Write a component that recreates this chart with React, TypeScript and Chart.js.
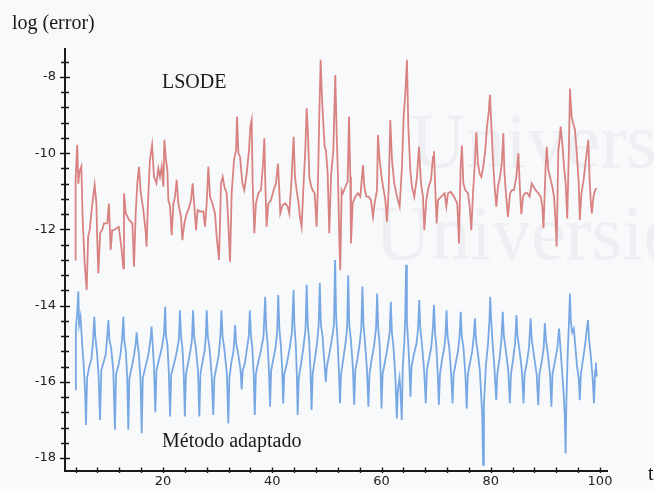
import React, { useEffect, useRef } from "react";
import { Chart, registerables } from "chart.js";

Chart.register(...registerables);

// ---- axis ranges and tick labels ----
const xMin = 2.06;
const xMax = 101.28;
const yMin = -18.34;
const yMax = -7.265;
const xTickStep = 4;
const yTickStep = 0.4;
const xLabelValues = [20, 40, 60, 80, 100];
const yLabelValues = [-8, -10, -12, -14, -16, -18];

const titleY = "log (error)";
const titleX = "t";
const nameLsode = "LSODE";
const nameAdapt = "Método adaptado";

// ---- series: [t, log(error)] ----
const lsodeSeries: [number, number][] = [
  [3.9, -12.8], [4.0, -10.7], [4.3, -9.78], [4.5, -10.8], [4.7, -10.5], [5.05, -10.35], [5.3, -11.75], [5.66, -12.89], [6.03, -13.59], [6.3, -12.19],
  [6.6, -12.0], [7.0, -11.4], [7.49, -10.83], [7.8, -11.3], [7.95, -12.2], [8.16, -13.15], [8.5, -12.1], [8.9, -12.0], [9.2, -11.84], [9.8, -11.84],
  [10.1, -11.32], [10.42, -12.54], [10.7, -12.02], [11.0, -12.02], [11.9, -11.93], [12.4, -12.5], [12.74, -13.02], [12.86, -11.05], [13.2, -11.58], [13.8, -11.75],
  [14.4, -11.84], [14.69, -12.98], [15.0, -11.58], [15.3, -10.79], [15.6, -10.36], [15.9, -11.0], [16.4, -11.49], [16.8, -12.02], [17.0, -12.45], [17.25, -11.3],
  [17.6, -10.18], [18.0, -9.78], [18.35, -10.62], [18.8, -10.79], [19.15, -10.4], [19.45, -10.62], [19.76, -10.35], [20.07, -10.88], [20.25, -9.65], [20.55, -10.18],
  [20.8, -10.44], [20.98, -11.23], [21.29, -11.4], [21.59, -12.15], [21.9, -11.32], [22.2, -11.14], [22.5, -10.7], [22.81, -11.32], [23.3, -11.67], [23.54, -12.28],
  [23.91, -11.84], [24.34, -11.58], [24.64, -11.49], [25.13, -11.23], [25.43, -10.79], [25.74, -11.4], [26.05, -12.02], [26.35, -11.49], [26.78, -11.53], [27.39, -11.53],
  [27.69, -11.93], [28.0, -11.32], [28.3, -10.35], [28.61, -11.14], [29.03, -11.32], [29.52, -11.58], [29.83, -12.19], [30.25, -12.8], [30.62, -10.79], [30.93, -10.62],
  [31.23, -10.88], [31.66, -11.05], [31.96, -11.84], [32.27, -12.85], [32.57, -11.05], [33.0, -10.18], [33.37, -9.92], [33.55, -9.04], [33.8, -10.0], [34.1, -10.09],
  [34.53, -10.79], [34.89, -10.97], [35.32, -10.53], [35.75, -9.92], [35.98, -9.3], [36.23, -9.13], [36.41, -10.79], [36.72, -12.1], [37.02, -11.32], [37.45, -11.05],
  [37.94, -10.97], [38.36, -10.18], [38.55, -9.61], [38.73, -10.79], [38.97, -11.93], [39.28, -11.32], [39.77, -11.23], [40.25, -10.97], [40.68, -10.79], [41.05, -10.27],
  [41.29, -10.97], [41.47, -11.58], [41.9, -11.36], [42.39, -11.32], [42.82, -11.4], [43.12, -11.58], [43.49, -10.79], [43.73, -10.09], [43.91, -9.57], [44.16, -10.62],
  [44.46, -10.97], [44.83, -11.32], [45.07, -11.67], [45.38, -11.93], [45.68, -10.97], [46.05, -9.92], [46.3, -8.82], [46.54, -9.48], [46.78, -10.62], [47.15, -10.88],
  [47.39, -10.97], [47.76, -11.05], [48.12, -11.93], [48.37, -10.79], [48.61, -9.04], [48.86, -7.55], [49.1, -8.52], [49.35, -9.22], [49.59, -9.83], [49.83, -9.92],
  [50.14, -10.53], [50.44, -12.1], [50.75, -10.62], [51.18, -9.92], [51.54, -7.95], [51.79, -9.48], [52.03, -10.62], [52.27, -12.19], [52.45, -13.07], [52.7, -10.97],
  [52.95, -11.05], [53.38, -10.88], [53.8, -10.75], [54.05, -9.04], [54.29, -10.62], [54.41, -12.37], [54.72, -11.32], [55.2, -11.14], [55.69, -11.05], [56.12, -11.14],
  [56.61, -10.31], [56.85, -10.88], [57.22, -11.14], [57.65, -11.14], [58.07, -11.23], [58.44, -11.67], [58.74, -11.32], [59.17, -10.97], [59.35, -9.52], [59.66, -10.18],
  [60.09, -10.7], [60.7, -11.23], [61.0, -11.8], [61.31, -10.97], [61.61, -9.13], [61.92, -10.18], [62.34, -10.79], [62.83, -11.14], [63.32, -11.4], [63.75, -10.35],
  [64.05, -9.04], [64.36, -8.43], [64.66, -7.55], [64.91, -9.3], [65.27, -10.44], [65.58, -10.88], [66.0, -11.14], [66.49, -10.62], [66.86, -9.83], [67.23, -10.79],
  [67.59, -11.14], [67.84, -12.02], [68.2, -11.23], [68.63, -10.88], [69.06, -10.7], [69.43, -10.09], [69.61, -9.95], [69.85, -10.97], [70.1, -11.84], [70.34, -11.23],
  [70.95, -11.14], [71.56, -11.05], [71.87, -11.4], [72.17, -11.05], [72.66, -11.01], [73.27, -11.14], [73.88, -11.32], [74.18, -12.37], [74.49, -10.35], [74.73, -9.8],
  [74.98, -10.79], [75.34, -10.97], [75.83, -11.05], [76.14, -11.4], [76.44, -12.02], [76.75, -11.05], [77.05, -10.35], [77.36, -9.45], [77.66, -10.27], [77.97, -10.53],
  [78.27, -10.62], [78.64, -10.35], [79.0, -9.92], [79.31, -9.3], [79.61, -8.95], [79.86, -8.47], [80.1, -9.22], [80.41, -10.18], [80.71, -10.88], [81.02, -11.4],
  [81.32, -10.88], [81.69, -10.62], [82.0, -10.3], [82.3, -9.48], [82.5, -10.5], [82.73, -10.97], [83.15, -11.67], [83.52, -11.05], [83.88, -10.97], [84.25, -10.97],
  [84.68, -10.62], [85.05, -10.0], [85.35, -10.97], [85.6, -11.6], [85.9, -11.14], [86.27, -11.05], [86.7, -11.05], [87.12, -11.14], [87.49, -10.79], [87.85, -10.88],
  [88.22, -10.97], [88.71, -11.05], [89.14, -11.14], [89.44, -11.4], [89.65, -11.97], [90.05, -10.35], [90.25, -9.83], [90.54, -10.44], [90.97, -10.7], [91.27, -10.88],
  [91.58, -11.14], [91.88, -11.84], [92.06, -12.45], [92.37, -9.92], [92.61, -9.65], [92.8, -9.3], [93.1, -9.74], [93.41, -10.35], [93.71, -10.79], [94.0, -11.71],
  [94.3, -9.92], [94.5, -8.3], [94.8, -9.04], [95.1, -9.22], [95.42, -9.39], [95.66, -9.83], [95.91, -10.35], [96.1, -10.79], [96.3, -11.75], [96.6, -11.05],
  [97.0, -10.7], [97.4, -10.18], [97.86, -9.65], [98.1, -10.7], [98.3, -11.23], [98.5, -11.58], [98.8, -11.14], [99.1, -10.97], [99.4, -10.92],
];

const adaptadoSeries: [number, number][] = [
  [3.9, -16.2], [4.05, -14.6], [4.3, -14.2], [4.5, -13.63], [4.65, -14.5], [4.9, -14.3], [5.2, -15.0], [5.5, -15.6], [5.75, -16.3], [5.9, -17.13],
  [6.1, -15.9], [6.5, -15.6], [6.9, -15.4], [7.2, -14.9], [7.43, -14.29], [7.6, -14.8], [7.9, -15.2], [8.2, -15.8], [8.47, -17.0], [8.7, -15.7],
  [9.1, -15.5], [9.5, -15.3], [9.8, -14.8], [10.0, -14.38], [10.2, -14.9], [10.5, -15.1], [10.9, -15.7], [11.2, -17.26], [11.4, -15.8], [11.8, -15.6],
  [12.2, -15.3], [12.5, -14.9], [12.74, -14.29], [12.9, -14.9], [13.2, -15.2], [13.45, -15.9], [13.65, -17.26], [13.85, -15.9], [14.3, -15.6], [14.7, -15.3],
  [15.0, -15.0], [15.18, -14.7], [15.35, -15.0], [15.6, -15.3], [15.9, -16.0], [16.1, -17.35], [16.3, -15.9], [16.8, -15.6], [17.3, -15.3], [17.7, -14.9],
  [17.9, -14.55], [18.1, -15.0], [18.35, -15.6], [18.6, -16.8], [18.8, -15.7], [19.3, -15.4], [19.8, -15.1], [20.2, -14.7], [20.4, -14.03], [20.55, -14.8],
  [20.8, -15.0], [21.05, -15.7], [21.3, -16.91], [21.5, -15.8], [21.9, -15.6], [22.4, -15.3], [22.9, -14.9], [23.1, -14.12], [23.3, -14.8], [23.55, -15.1],
  [23.8, -15.8], [24.0, -16.91], [24.2, -15.8], [24.6, -15.5], [25.0, -15.2], [25.3, -14.9], [25.5, -14.12], [25.7, -14.8], [26.0, -15.1], [26.4, -15.7],
  [26.65, -16.91], [26.85, -15.8], [27.2, -15.5], [27.6, -15.2], [27.85, -14.8], [28.0, -14.12], [28.2, -14.8], [28.5, -15.1], [28.9, -15.8], [29.2, -16.87],
  [29.4, -15.9], [29.8, -15.6], [30.2, -15.3], [30.5, -14.8], [30.7, -14.12], [30.9, -14.8], [31.2, -15.1], [31.7, -15.8], [31.96, -17.09], [32.15, -15.9],
  [32.5, -15.5], [32.9, -15.2], [33.05, -14.9], [33.2, -14.51], [33.4, -15.0], [33.8, -15.3], [34.2, -15.7], [34.4, -16.2], [34.6, -15.7], [35.0, -15.5],
  [35.4, -15.1], [35.7, -14.8], [35.9, -14.12], [36.1, -14.8], [36.35, -15.1], [36.6, -15.8], [36.8, -16.87], [37.0, -15.8], [37.4, -15.5], [37.9, -15.2],
  [38.4, -14.8], [38.7, -13.77], [38.9, -14.6], [39.15, -15.0], [39.4, -15.7], [39.6, -16.65], [39.8, -15.7], [40.2, -15.4], [40.6, -15.1], [40.9, -14.7],
  [41.1, -13.72], [41.3, -14.6], [41.55, -15.0], [41.8, -15.6], [42.0, -16.57], [42.2, -15.8], [42.7, -15.5], [43.2, -15.1], [43.6, -14.7], [43.9, -13.59],
  [44.05, -14.5], [44.3, -15.0], [44.5, -15.8], [44.65, -16.87], [44.85, -15.9], [45.3, -15.5], [45.7, -15.1], [46.1, -14.6], [46.3, -13.45], [46.5, -14.5],
  [46.75, -14.9], [47.0, -15.7], [47.2, -16.74], [47.4, -15.8], [47.8, -15.4], [48.2, -15.0], [48.5, -14.5], [48.7, -13.41], [48.9, -14.5], [49.2, -14.8],
  [49.5, -15.4], [49.8, -16.0], [50.0, -15.6], [50.4, -15.3], [50.9, -14.9], [51.3, -14.5], [51.5, -12.8], [51.7, -14.3], [51.95, -14.9], [52.2, -15.7],
  [52.4, -16.56], [52.6, -15.8], [53.0, -15.4], [53.4, -15.0], [53.7, -14.6], [53.9, -13.2], [54.1, -14.5], [54.4, -14.9], [54.75, -15.6], [55.0, -16.6],
  [55.2, -15.7], [55.6, -15.4], [56.0, -15.0], [56.3, -14.6], [56.5, -13.5], [56.7, -14.5], [57.0, -15.0], [57.35, -15.7], [57.6, -16.65], [57.8, -15.8],
  [58.2, -15.4], [58.6, -15.1], [59.0, -14.6], [59.2, -13.68], [59.4, -14.6], [59.65, -15.0], [59.85, -15.8], [60.0, -16.7], [60.2, -15.8], [60.6, -15.5],
  [61.1, -15.1], [61.5, -14.7], [61.7, -13.9], [61.9, -14.7], [62.2, -15.1], [62.55, -15.9], [62.8, -16.96], [63.0, -16.2], [63.3, -15.9], [63.5, -16.3],
  [63.7, -17.0], [63.9, -15.6], [64.2, -14.9], [64.35, -14.3], [64.5, -12.93], [64.65, -14.4], [64.9, -15.0], [65.1, -15.6], [65.3, -16.39], [65.5, -15.6],
  [65.9, -15.3], [66.4, -15.0], [66.7, -14.6], [66.9, -13.85], [67.1, -14.6], [67.4, -15.0], [67.8, -15.7], [68.1, -16.56], [68.3, -15.7], [68.7, -15.4],
  [69.1, -15.1], [69.4, -14.6], [69.6, -13.98], [69.8, -14.7], [70.05, -15.1], [70.3, -15.8], [70.5, -16.61], [70.7, -15.8], [71.1, -15.4], [71.5, -15.1],
  [71.75, -14.7], [71.9, -14.12], [72.1, -14.8], [72.4, -15.1], [72.75, -15.8], [73.0, -16.56], [73.2, -15.8], [73.6, -15.5], [74.0, -15.2], [74.3, -14.8],
  [74.5, -14.16], [74.7, -14.8], [75.0, -15.1], [75.35, -15.8], [75.6, -16.7], [75.8, -15.8], [76.2, -15.5], [76.6, -15.2], [76.9, -14.8], [77.1, -14.33],
  [77.3, -14.9], [77.6, -15.2], [78.0, -15.7], [78.3, -16.5], [78.45, -16.9], [78.6, -18.18], [78.75, -16.6], [79.1, -15.6], [79.5, -15.0], [79.75, -14.4],
  [79.9, -13.77], [80.05, -14.3], [80.3, -14.9], [80.7, -15.7], [81.0, -16.48], [81.2, -15.8], [81.6, -15.4], [81.95, -14.9], [82.2, -14.16], [82.4, -14.8],
  [82.7, -15.1], [83.2, -15.7], [83.5, -16.56], [83.7, -15.8], [84.1, -15.4], [84.45, -15.0], [84.7, -14.25], [84.9, -14.8], [85.2, -15.1], [85.7, -15.7],
  [86.0, -16.56], [86.2, -15.8], [86.6, -15.5], [87.0, -15.1], [87.3, -14.33], [87.5, -14.9], [87.8, -15.2], [88.4, -15.8], [88.7, -16.61], [88.9, -15.8],
  [89.3, -15.5], [89.7, -15.1], [89.9, -14.46], [90.1, -14.9], [90.4, -15.2], [90.85, -15.8], [91.1, -16.65], [91.3, -15.8], [91.7, -15.5], [92.2, -15.1],
  [92.5, -14.6], [92.7, -15.0], [93.0, -15.6], [93.3, -16.2], [93.55, -16.9], [93.7, -17.88], [93.85, -16.5], [94.1, -15.2], [94.3, -14.5], [94.5, -13.68],
  [94.65, -14.4], [94.9, -14.7], [95.2, -14.6], [95.5, -15.1], [95.8, -15.6], [96.1, -15.9], [96.3, -16.48], [96.5, -15.8], [96.9, -15.4], [97.3, -15.0],
  [97.6, -14.6], [97.8, -14.38], [98.0, -14.9], [98.3, -15.3], [98.65, -15.9], [98.9, -16.56], [99.1, -15.7], [99.25, -15.5], [99.4, -15.86],
];

const isLabel = (list: number[], v: number) => list.some((l) => Math.abs(l - v) < 1e-6);

const crossTicks = {
  id: "crossTicks",
  afterDraw(chart: any) {
    const { ctx, chartArea, scales } = chart;
    ctx.save();
    ctx.strokeStyle = "#1a1a1a";
    ctx.lineWidth = 1.4;
    ctx.beginPath();
    scales.x.ticks.forEach((t: any) => {
      const px = Math.round(scales.x.getPixelForValue(t.value)) + 0.5;
      ctx.moveTo(px, chartArea.bottom - 3.5);
      ctx.lineTo(px, chartArea.bottom + 2);
    });
    scales.y.ticks.forEach((t: any) => {
      const py = Math.round(scales.y.getPixelForValue(t.value)) + 0.5;
      const major = isLabel(yLabelValues, t.value);
      ctx.moveTo(chartArea.left - (major ? 5 : 4), py);
      ctx.lineTo(chartArea.left + (major ? 5 : 4), py);
    });
    ctx.stroke();
    ctx.restore();
  },
};

export default function App() {
  const canvasRef = useRef<HTMLCanvasElement | null>(null);

  useEffect(() => {
    if (!canvasRef.current) return;
    const chart = new Chart(canvasRef.current, {
      type: "line",
      data: {
        datasets: [
          {
            label: nameLsode,
            data: lsodeSeries.map(([x, y]) => ({ x, y })),
            borderColor: "#d98282",
            borderWidth: 1.8,
            pointRadius: 0,
            tension: 0,
          },
          {
            label: nameAdapt,
            data: adaptadoSeries.map(([x, y]) => ({ x, y })),
            borderColor: "#78a8e4",
            borderWidth: 1.8,
            pointRadius: 0,
            tension: 0,
          },
        ],
      },
      options: {
        animation: false,
        responsive: false,
        layout: { padding: { left: 0, top: 49, right: 47, bottom: 0 } },
        plugins: { legend: { display: false }, tooltip: { enabled: false } },
        scales: {
          x: {
            type: "linear",
            min: xMin,
            max: xMax,
            afterBuildTicks: (s: any) => {
              const arr = [];
              for (let v = xTickStep; v <= 100; v += xTickStep) arr.push({ value: v });
              s.ticks = arr;
            },
            afterFit: (s: any) => {
              s.height = 20;
            },
            grid: { display: false, drawTicks: false },
            border: { display: true, color: "#1a1a1a", width: 2 },
            ticks: {
              autoSkip: false,
              maxRotation: 0,
              padding: 3,
              color: "#222",
              font: { family: "DejaVu Sans", size: 13 },
              callback: (v: any) => (isLabel(xLabelValues, Number(v)) ? String(v) : ""),
            },
          },
          y: {
            type: "linear",
            min: yMin,
            max: yMax,
            afterBuildTicks: (s: any) => {
              const arr = [];
              for (let k = 0; k <= 26; k++) arr.push({ value: Math.round((-18 + k * yTickStep) * 10) / 10 });
              s.ticks = arr;
            },
            afterFit: (s: any) => {
              s.width = 65;
            },
            grid: { display: false, drawTicks: false },
            border: { display: true, color: "#1a1a1a", width: 2 },
            ticks: {
              autoSkip: false,
              padding: 9,
              color: "#222",
              font: { family: "DejaVu Sans", size: 13 },
              callback: (v: any) => (isLabel(yLabelValues, Number(v)) ? String(v) : ""),
            },
          },
        },
      },
      plugins: [crossTicks],
    } as any);
    return () => chart.destroy();
  }, []);

  const serif = '"Liberation Serif", "Times New Roman", serif';
  const textStyle = (left: number, top: number, size: number, color = "#1a1a1a"): React.CSSProperties => ({
    position: "absolute",
    left,
    top,
    fontFamily: serif,
    fontSize: size,
    lineHeight: 1,
    color,
    whiteSpace: "nowrap",
  });

  return (
    <div
      style={{
        position: "fixed",
        left: 0,
        top: 0,
        width: 654,
        height: 491,
        overflow: "hidden",
        background: "#f8f9fb",
      }}
    >
      <div style={textStyle(410, 102, 78, "#eeeff2")}>Universit</div>
      <div style={textStyle(375, 194, 78, "#eeeff2")}>Universida</div>
      <canvas ref={canvasRef} width={654} height={491} style={{ position: "absolute", left: 0, top: 0 }} />
      <div style={textStyle(12, 12, 20)}>{titleY}</div>
      <div style={textStyle(162, 71, 20)}>{nameLsode}</div>
      <div style={textStyle(162, 430, 20)}>{nameAdapt}</div>
      <div style={textStyle(648, 463, 20)}>{titleX}</div>
    </div>
  );
}
